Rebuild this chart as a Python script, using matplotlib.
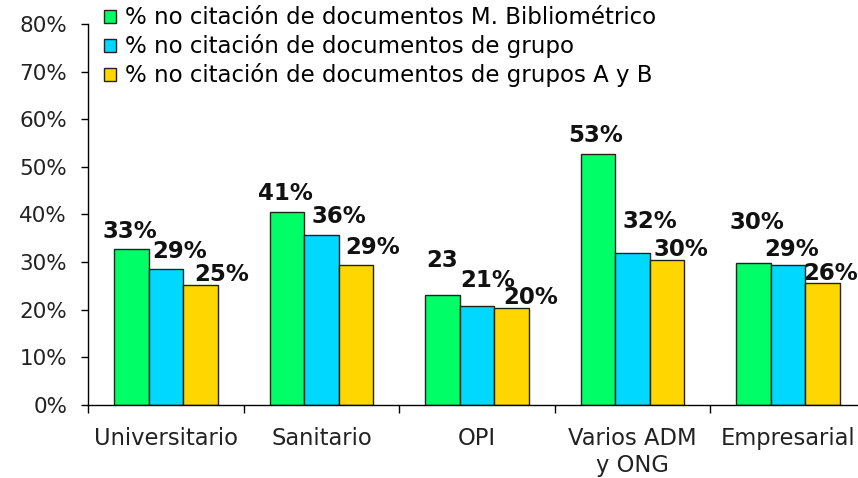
import matplotlib
matplotlib.use("Agg")
import matplotlib.pyplot as plt
from matplotlib.patches import Patch
import numpy as np

categories = ["Universitario", "Sanitario", "OPI", "Varios ADM\ny ONG", "Empresarial"]
series_names = ["% no citación de documentos M. Bibliométrico",
                "% no citación de documentos de grupo",
                "% no citación de documentos de grupos A y B"]
green = [32.8, 40.6, 23.1, 52.7, 29.9]
cyan = [28.6, 35.8, 20.8, 32.0, 29.3]
yellow = [25.1, 29.3, 20.4, 30.5, 25.6]
labels = [["33%", "29%", "25%"],
          ["41%", "36%", "29%"],
          ["23", "21%", "20%"],
          ["53%", "32%", "30%"],
          ["30%", "29%", "26%"]]
# label offsets in pixels (dx, dy) from bar top centre, as placed in the original
label_offsets = [[(-1.5, 11), (14, 11), (21, 4)],
                 [(-1, 12), (17, 12), (17, 11)],
                 [(0, 28), (11, 19), (19, 4)],
                 [(-2, 12), (17, 25), (14, 4)],
                 [(3, 34), (3, 9), (8, 3)]]
colors = ["#00ff66", "#00d8ff", "#ffd600"]

fig = plt.figure(figsize=(8.58, 4.78), dpi=100)
ax = fig.add_axes([88/858, 73/478, 778/858, 381/478])

x = np.arange(len(categories)) + 0.5
w = 0.222
series = [green, cyan, yellow]
for i, vals in enumerate(series):
    bars = ax.bar(x + (i - 1) * w, vals, w, color=colors[i], edgecolor="#222222", linewidth=1)
    for j, b in enumerate(bars):
        dx, dy = label_offsets[j][i]
        ax.annotate(labels[j][i], (b.get_x() + b.get_width() / 2, b.get_height()),
                    xytext=(dx, dy), textcoords="offset pixels",
                    ha="center", va="baseline", fontsize=16.5, fontweight="bold",
                    color="#111111")

ax.set_xlim(0, 5)
ax.set_ylim(0, 80)
ax.set_yticks(np.arange(0, 81, 10))
ax.set_yticklabels([f"{v}%" for v in range(0, 81, 10)], fontsize=15.5, color="#222222")
ax.tick_params(axis="y", length=5, width=1, pad=10)
ax.set_xticks(np.arange(0, 6))
ax.set_xticklabels([])
ax.set_xticks(x, minor=True)
ax.set_xticklabels(categories, minor=True, fontsize=16.3, color="#222222", linespacing=1.22)
ax.tick_params(axis="x", which="major", length=6, width=1)
ax.tick_params(axis="x", which="minor", length=0, pad=16)
for s in ["top", "right"]:
    ax.spines[s].set_visible(False)
ax.spines["left"].set_linewidth(1)
ax.spines["bottom"].set_linewidth(1)

handles = [Patch(facecolor=c, edgecolor="#222222", linewidth=1) for c in colors]
fig.legend(handles, series_names, loc="upper left", bbox_to_anchor=(102/858, 1 - 4/478),
           frameon=False, fontsize=16.5, handlelength=0.5, handleheight=0.5,
           handletextpad=0.4, labelspacing=0.22, borderaxespad=0, borderpad=0.1)

fig.savefig("out.png", dpi=100)
